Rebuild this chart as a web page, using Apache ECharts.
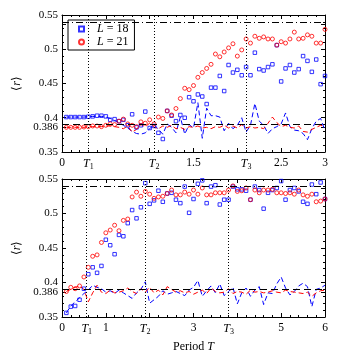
<!DOCTYPE html>
<html>
<head>
<meta charset="utf-8">
<script src="https://cdn.jsdelivr.net/npm/echarts@6/dist/echarts.min.js"></script>
<style>
html, body { margin: 0; padding: 0; background: #fff; }
#chart { width: 339px; height: 361px; }
</style>
</head>
<body>
<div id="chart"></div>
<script>

	var FONT = "Liberation Serif";
	var BLUE = "#0000ff", RED = "#ff0000";

	/*
	 * upper panel (periods 0 .. 3)
	 */
	var topT = [0.05, 0.10, 0.15, 0.20, 0.25, 0.30, 0.35, 0.40, 0.45, 0.50,
		0.55, 0.60, 0.65, 0.70, 0.75, 0.80, 0.85, 0.90, 0.95, 1.00,
		1.05, 1.10, 1.15, 1.20, 1.25, 1.30, 1.35, 1.40, 1.45, 1.50,
		1.55, 1.60, 1.65, 1.70, 1.75, 1.80, 1.85, 1.90, 1.95, 2.00,
		2.05, 2.10, 2.15, 2.20, 2.25, 2.30, 2.35, 2.40, 2.45, 2.50,
		2.55, 2.60, 2.65, 2.70, 2.75, 2.80, 2.85, 2.90, 2.95, 3.00];

	var topL18 = [0.401, 0.401, 0.401, 0.401, 0.401, 0.4015, 0.402, 0.403, 0.403, 0.402,
		0.397, 0.398, 0.395, 0.397, 0.389, 0.405, 0.386, 0.389, 0.409, 0.385,
		0.388, 0.378, 0.369, 0.410, 0.403, 0.395, 0.404, 0.400, 0.430, 0.424,
		0.434, 0.431, 0.420, 0.444, 0.444, 0.461, 0.439, 0.477, 0.466, 0.470,
		0.462, 0.474, 0.462, 0.495, 0.471, 0.469, 0.474, 0.478, 0.506, 0.453,
		0.472, 0.477, 0.466, 0.471, 0.490, 0.483, 0.467, 0.485, 0.449, 0.461];

	var topL21 = [0.386, 0.386, 0.386, 0.386, 0.3865, 0.387, 0.388, 0.388, 0.387, 0.389,
		0.391, 0.390, 0.395, 0.398, 0.391, 0.389, 0.387, 0.394, 0.392, 0.397,
		0.391, 0.401, 0.399, 0.410, 0.404, 0.4135, 0.428, 0.443, 0.441, 0.447,
		0.459, 0.466, 0.472, 0.478, 0.493, 0.489, 0.496, 0.502, 0.508, 0.490,
		0.499, 0.515, 0.509, 0.519, 0.516, 0.518, 0.515, 0.515, 0.506, 0.511,
		0.509, 0.515, 0.525, 0.515, 0.516, 0.521, 0.519, 0.509, 0.509, 0.529];

	var topL18Dash = [0.401, 0.401, 0.401, 0.401, 0.401, 0.4015, 0.402, 0.402, 0.402, 0.401,
		0.399, 0.396, 0.393, 0.389, 0.385, 0.380, 0.377, 0.376, 0.378, 0.384,
		0.390, 0.383, 0.376, 0.391, 0.386, 0.378, 0.401, 0.376, 0.390, 0.385,
		0.422, 0.370, 0.414, 0.403, 0.403, 0.401, 0.381, 0.392, 0.384, 0.389,
		0.400, 0.379, 0.389, 0.421, 0.395, 0.389, 0.377, 0.384, 0.387, 0.391,
		0.407, 0.387, 0.382, 0.381, 0.377, 0.368, 0.384, 0.395, 0.399, 0.381];

	var topL21Dash = [0.386, 0.386, 0.386, 0.386, 0.386, 0.387, 0.387, 0.387, 0.387, 0.388,
		0.388, 0.387, 0.386, 0.384, 0.388, 0.379, 0.383, 0.390, 0.387, 0.392,
		0.386, 0.384, 0.388, 0.386, 0.389, 0.384, 0.386, 0.383, 0.387, 0.386,
		0.388, 0.385, 0.386, 0.384, 0.387, 0.386, 0.389, 0.385, 0.388, 0.385,
		0.390, 0.385, 0.387, 0.385, 0.386, 0.384, 0.392, 0.401, 0.393, 0.387,
		0.389, 0.386, 0.385, 0.388, 0.380, 0.379, 0.383, 0.386, 0.389, 0.387];

	var topMarks = [0.3, 1.05, 2.1];
	var topLabels = [0, 0.3, 1.05, 1.5, 2.1, 2.5, 3];

	/*
	 * lower panel (periods 0 .. 6)
	 */
	var botT = [0.1, 0.2, 0.3, 0.4, 0.5, 0.6, 0.7, 0.8, 0.9, 1.0,
		1.1, 1.2, 1.3, 1.4, 1.5, 1.6, 1.7, 1.8, 1.9, 2.0,
		2.1, 2.2, 2.3, 2.4, 2.5, 2.6, 2.7, 2.8, 2.9, 3.0,
		3.1, 3.2, 3.3, 3.4, 3.5, 3.6, 3.7, 3.8, 3.9, 4.0,
		4.1, 4.2, 4.3, 4.4, 4.5, 4.6, 4.7, 4.8, 4.9, 5.0,
		5.1, 5.2, 5.3, 5.4, 5.5, 5.6, 5.7, 5.8, 5.9, 6.0];

	var botL18 = [0.356, 0.365, 0.366, 0.375, 0.391, 0.412, 0.422, 0.414, 0.424, 0.462,
		0.454, 0.441, 0.469, 0.467, 0.486, 0.505, 0.493, 0.509, 0.544, 0.514,
		0.519, 0.533, 0.517, 0.529, 0.530, 0.520, 0.515, 0.539, 0.501, 0.521,
		0.543, 0.548, 0.515, 0.539, 0.541, 0.513, 0.520, 0.520, 0.539, 0.535,
		0.535, 0.533, 0.520, 0.539, 0.534, 0.507, 0.530, 0.534, 0.537, 0.547,
		0.520, 0.534, 0.537, 0.532, 0.517, 0.514, 0.542, 0.528, 0.545, 0.521];

	var botL21 = [0.387, 0.393, 0.391, 0.395, 0.408, 0.422, 0.438, 0.440, 0.458, 0.472,
		0.476, 0.483, 0.475, 0.490, 0.492, 0.524, 0.531, 0.525, 0.532, 0.528,
		0.522, 0.524, 0.525, 0.529, 0.534, 0.527, 0.527, 0.531, 0.528, 0.534,
		0.528, 0.537, 0.527, 0.527, 0.530, 0.530, 0.530, 0.534, 0.540, 0.532,
		0.533, 0.537, 0.520, 0.534, 0.530, 0.534, 0.534, 0.535, 0.530, 0.530,
		0.529, 0.530, 0.528, 0.534, 0.527, 0.525, 0.528, 0.517, 0.518, 0.521];

	var botL18Dash = [0.356, 0.366, 0.372, 0.378, 0.384, 0.389, 0.396, 0.393, 0.391, 0.386,
		0.388, 0.384, 0.389, 0.385, 0.381, 0.377, 0.385, 0.390, 0.401, 0.370,
		0.375, 0.380, 0.388, 0.383, 0.385, 0.387, 0.384, 0.381, 0.389, 0.393,
		0.403, 0.380, 0.388, 0.395, 0.385, 0.398, 0.381, 0.387, 0.393, 0.369,
		0.385, 0.392, 0.380, 0.389, 0.394, 0.368, 0.385, 0.384, 0.398, 0.408,
		0.392, 0.382, 0.387, 0.395, 0.399, 0.394, 0.365, 0.390, 0.392, 0.396];

	var botL21Dash = [0.387, 0.390, 0.393, 0.395, 0.390, 0.372, 0.385, 0.396, 0.386, 0.384,
		0.389, 0.385, 0.386, 0.388, 0.392, 0.387, 0.384, 0.391, 0.386, 0.393,
		0.385, 0.389, 0.382, 0.394, 0.390, 0.386, 0.388, 0.385, 0.387, 0.383,
		0.386, 0.389, 0.384, 0.392, 0.387, 0.385, 0.386, 0.391, 0.384, 0.387,
		0.386, 0.383, 0.389, 0.386, 0.387, 0.385, 0.386, 0.388, 0.386, 0.385,
		0.389, 0.387, 0.386, 0.385, 0.384, 0.386, 0.380, 0.385, 0.388, 0.389];

	var botMarks = [0.565, 1.895, 3.8];
	var botLabels = [0, 0.565, 1, 1.895, 3, 3.8, 5, 6];

	var yLabels = [0.35, 0.386, 0.4, 0.45, 0.5, 0.536, 0.55];

	var rich = {
		i: { fontFamily: FONT, fontStyle: "italic", fontSize: 12, color: "#000" },
		s: { fontFamily: FONT, fontSize: 8, color: "#000", verticalAlign: "bottom", padding: [6, 0, 0, 0] }
	};

	function pairs(xs, ys) {
		var out = [];
		for (var i = 0; i < xs.length; i++) out.push([xs[i], ys[i]]);
		return out;
	}

	/*
	 * x axis labels, T1..T3 as italic with subscript
	 */
	function xFormatter(marks) {
		return function(v) {
			for (var i = 0; i < marks.length; i++) {
				if (Math.abs(v - marks[i]) < 1e-6) return "{i|T}{s|" + (i + 1) + "}";
			}
			return String(v);
		};
	}

	function xAxis(grid, pos, max, interval, labels, marks, name) {
		var ax = {
			type: "value", gridIndex: grid, position: pos,
			min: 0, max: max, interval: interval,
			splitLine: { show: false },
			axisLine: { onZero: false, lineStyle: { color: "#000", width: 1 } },
			axisTick: { inside: true, length: 4, lineStyle: { color: "#000" } },
			minorTick: { show: true, splitNumber: 5, length: 2, lineStyle: { color: "#000" } },
			axisLabel: { show: false }
		};
		if (pos === "bottom") {
			ax.axisLabel = {
				show: true, customValues: labels, formatter: xFormatter(marks),
				showMinLabel: true, showMaxLabel: true, hideOverlap: false,
				fontFamily: FONT, fontSize: 11.5, color: "#000", margin: 5, rich: rich
			};
		}
		if (name) {
			ax.name = name;
			ax.nameLocation = "middle";
			ax.nameGap = 24;
			ax.nameTextStyle = { fontFamily: FONT, fontSize: 12, color: "#000", rich: rich };
		}
		return ax;
	}

	function yAxis(grid, pos) {
		var ax = {
			type: "value", gridIndex: grid, position: pos,
			min: 0.35, max: 0.55, interval: 0.05,
			splitLine: { show: false },
			axisLine: { onZero: false, lineStyle: { color: "#000", width: 1 } },
			axisTick: { inside: true, length: 4, customValues: yLabels, lineStyle: { color: "#000" } },
			minorTick: { show: true, splitNumber: 5, length: 2, lineStyle: { color: "#000" } },
			axisLabel: { show: false }
		};
		if (pos === "left") {
			ax.axisLabel = {
				show: true, customValues: yLabels,
				showMinLabel: true, showMaxLabel: true, hideOverlap: false,
				formatter: function(v) { return String(v); },
				fontFamily: FONT, fontSize: 11, color: "#000", margin: 4
			};
			ax.name = "⟨{i|r}⟩";
			ax.nameLocation = "middle";
			ax.nameGap = 34;
			ax.nameTextStyle = { fontFamily: FONT, fontSize: 12, color: "#000", rich: rich };
		}
		return ax;
	}

	/*
	 * reference lines: dotted T verticals, dashed 0.386, dash-dot 0.536
	 */
	function refLines(marks) {
		var data = [];
		marks.forEach(function(m) {
			data.push({ xAxis: m, lineStyle: { type: [1, 2], color: "#000", width: 1 } });
		});
		data.push({ yAxis: 0.386, lineStyle: { type: [7, 4], color: "#000", width: 1 } });
		data.push({ yAxis: 0.536, lineStyle: { type: [7, 3, 1, 3], color: "#000", width: 1 } });
		return {
			silent: true, symbol: ["none", "none"], label: { show: false },
			animation: false, data: data
		};
	}

	function panel(idx, ts, l18, l21, d18, d21, marks) {
		return [{
			name: "L18", type: "scatter", xAxisIndex: idx * 2, yAxisIndex: idx * 2,
			symbol: "rect", symbolSize: 3.5,
			itemStyle: { color: "transparent", borderColor: BLUE, borderWidth: 1 },
			data: pairs(ts, l18), z: 3
		}, {
			name: "L21", type: "scatter", xAxisIndex: idx * 2, yAxisIndex: idx * 2,
			symbol: "circle", symbolSize: 4,
			itemStyle: { color: "transparent", borderColor: RED, borderWidth: 1 },
			data: pairs(ts, l21), z: 3
		}, {
			type: "line", xAxisIndex: idx * 2, yAxisIndex: idx * 2,
			showSymbol: false, symbol: "none",
			lineStyle: { color: BLUE, width: 1, type: [5, 3] },
			data: pairs(ts, d18), markLine: refLines(marks), z: 2
		}, {
			type: "line", xAxisIndex: idx * 2, yAxisIndex: idx * 2,
			showSymbol: false, symbol: "none",
			lineStyle: { color: RED, width: 1, type: [5, 3] },
			data: pairs(ts, d21), z: 2
		}];
	}

	var chart = echarts.init(document.getElementById("chart"), null, { renderer: "canvas" });

	chart.setOption({
		animation: false,
		backgroundColor: "#fff",
		grid: [
			{ left: 62, right: 14, top: 15, height: 137 },
			{ left: 62, right: 14, top: 179, height: 138 }
		],
		xAxis: [
			xAxis(0, "bottom", 3, 0.5, topLabels, topMarks),
			xAxis(0, "top", 3, 0.5),
			xAxis(1, "bottom", 6, 1, botLabels, botMarks, "Period {i|T}"),
			xAxis(1, "top", 6, 1)
		],
		yAxis: [
			yAxis(0, "left"), yAxis(0, "right"),
			yAxis(1, "left"), yAxis(1, "right")
		],
		legend: {
			data: ["L18", "L21"],
			orient: "vertical", left: 68, top: 20,
			backgroundColor: "#fff", borderColor: "#000", borderWidth: 1,
			padding: [3, 6, 2, 10], itemGap: 1,
			itemWidth: 5, itemHeight: 5,
			formatter: function(n) { return n === "L18" ? "{i|L} = 18" : "{i|L} = 21"; },
			textStyle: { fontFamily: FONT, fontSize: 12, color: "#000", padding: [0, 0, 0, 8], rich: rich }
		},
		series: panel(0, topT, topL18, topL21, topL18Dash, topL21Dash, topMarks)
			.concat(panel(1, botT, botL18, botL21, botL18Dash, botL21Dash, botMarks))
	});

</script>
</body>
</html>
